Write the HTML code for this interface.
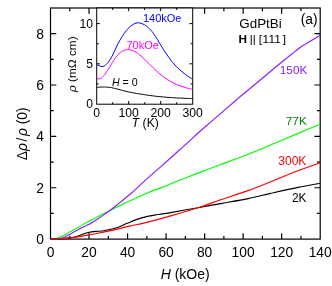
<!DOCTYPE html>
<html><head><meta charset="utf-8"><style>html,body{margin:0;padding:0;background:#fff;width:332px;height:286px;overflow:hidden}body{position:relative;font-family:"Liberation Sans",sans-serif}</style></head><body>
<svg width="332" height="286" viewBox="0 0 332 286" style="position:absolute;left:0;top:0" font-family="Liberation Sans, sans-serif">
<rect width="332" height="286" fill="#fff"/>
<g stroke="#000" stroke-width="1.2" fill="none" stroke-linecap="butt">
<rect x="50.50" y="8.00" width="269.70" height="231.10"/>
<path d="M69.76,239.10v-3.20 M69.76,8.00v3.20"/>
<path d="M89.03,239.10v-5.80 M89.03,8.00v5.80"/>
<path d="M108.29,239.10v-3.20 M108.29,8.00v3.20"/>
<path d="M127.56,239.10v-5.80 M127.56,8.00v5.80"/>
<path d="M146.82,239.10v-3.20 M146.82,8.00v3.20"/>
<path d="M166.09,239.10v-5.80 M166.09,8.00v5.80"/>
<path d="M185.35,239.10v-3.20 M185.35,8.00v3.20"/>
<path d="M204.61,239.10v-5.80 M204.61,8.00v5.80"/>
<path d="M223.88,239.10v-3.20 M223.88,8.00v3.20"/>
<path d="M243.14,239.10v-5.80 M243.14,8.00v5.80"/>
<path d="M262.41,239.10v-3.20 M262.41,8.00v3.20"/>
<path d="M281.67,239.10v-5.80 M281.67,8.00v5.80"/>
<path d="M300.94,239.10v-3.20 M300.94,8.00v3.20"/>
<path d="M50.50,213.42h3.20 M320.20,213.42h-3.20"/>
<path d="M50.50,187.74h5.80 M320.20,187.74h-5.80"/>
<path d="M50.50,162.06h3.20 M320.20,162.06h-3.20"/>
<path d="M50.50,136.38h5.80 M320.20,136.38h-5.80"/>
<path d="M50.50,110.70h3.20 M320.20,110.70h-3.20"/>
<path d="M50.50,85.02h5.80 M320.20,85.02h-5.80"/>
<path d="M50.50,59.34h3.20 M320.20,59.34h-3.20"/>
<path d="M50.50,33.66h5.80 M320.20,33.66h-5.80"/>
</g>
<defs><clipPath id="mc"><rect x="50.50" y="8.00" width="269.70" height="232.10"/></clipPath></defs>
<g fill="none" stroke-width="1.15" stroke-linejoin="round" clip-path="url(#mc)">
<path d="M50.50,238.80 C51.25,238.75 53.42,238.75 55.00,238.50 C56.58,238.25 58.33,237.92 60.00,237.30 C61.67,236.68 63.23,235.75 65.00,234.80 C66.77,233.85 68.42,232.80 70.60,231.60 C72.78,230.40 75.58,229.03 78.10,227.60 C80.62,226.17 83.72,224.15 85.70,223.00 C87.68,221.85 87.95,221.78 90.00,220.70 C92.05,219.62 94.68,218.20 98.00,216.50 C101.32,214.80 107.38,211.75 109.90,210.50 C112.42,209.25 111.08,209.98 113.10,209.00 C115.12,208.02 119.18,205.97 122.00,204.60 C124.82,203.23 128.23,201.63 130.00,200.80 C131.77,199.97 129.60,200.95 132.60,199.60 C135.60,198.25 142.05,195.13 148.00,192.70 C153.95,190.27 164.28,186.58 168.30,185.00 C172.32,183.42 167.15,185.18 172.10,183.20 C177.05,181.22 190.02,176.17 198.00,173.10 C205.98,170.03 211.67,167.95 220.00,164.80 C228.33,161.65 239.67,157.47 248.00,154.20 C256.33,150.93 264.67,147.40 270.00,145.20 C275.33,143.00 275.33,142.97 280.00,141.00 C284.67,139.03 291.30,136.18 298.00,133.40 C304.70,130.62 316.50,125.82 320.20,124.30" stroke="#00ff00"/>
<path d="M50.50,238.80 C51.58,238.77 54.90,238.78 57.00,238.60 C59.10,238.42 60.83,238.48 63.10,237.70 C65.37,236.92 68.10,235.22 70.60,233.90 C73.10,232.58 75.58,231.13 78.10,229.80 C80.62,228.47 83.72,226.92 85.70,225.90 C87.68,224.88 88.75,224.38 90.00,223.70 C91.25,223.02 91.87,222.62 93.20,221.80 C94.53,220.98 96.37,219.87 98.00,218.80 C99.63,217.73 101.02,216.78 103.00,215.40 C104.98,214.02 107.73,212.10 109.90,210.50 C112.07,208.90 113.85,207.52 116.00,205.80 C118.15,204.08 120.47,202.13 122.80,200.20 C125.13,198.27 127.97,195.92 130.00,194.20 C132.03,192.48 132.00,192.62 135.00,189.90 C138.00,187.18 143.50,181.95 148.00,177.90 C152.50,173.85 156.67,170.33 162.00,165.60 C167.33,160.87 175.30,153.72 180.00,149.50 C184.70,145.28 187.20,143.05 190.20,140.30 C193.20,137.55 193.87,136.65 198.00,133.00 C202.13,129.35 208.72,123.82 215.00,118.40 C221.28,112.98 231.53,104.10 235.70,100.50 C239.87,96.90 235.95,100.18 240.00,96.80 C244.05,93.42 253.33,85.75 260.00,80.20 C266.67,74.65 275.30,67.38 280.00,63.50 C284.70,59.62 285.68,58.92 288.20,56.90 C290.72,54.88 292.70,53.25 295.10,51.40 C297.50,49.55 300.10,47.48 302.60,45.80 C305.10,44.12 307.17,43.05 310.10,41.30 C313.03,39.55 318.52,36.30 320.20,35.30" stroke="#8c1aff"/>
<path d="M50.50,238.80 C52.58,238.77 59.65,238.78 63.00,238.60 C66.35,238.42 68.60,237.97 70.60,237.70 C72.60,237.43 73.75,237.28 75.00,237.00 C76.25,236.72 76.83,236.47 78.10,236.00 C79.37,235.53 81.08,234.75 82.60,234.20 C84.12,233.65 85.43,233.13 87.20,232.70 C88.97,232.27 91.40,231.83 93.20,231.60 C95.00,231.37 96.20,231.45 98.00,231.30 C99.80,231.15 102.15,230.98 104.00,230.70 C105.85,230.42 106.73,230.18 109.10,229.60 C111.47,229.02 115.17,228.25 118.20,227.20 C121.23,226.15 124.27,224.57 127.30,223.30 C130.33,222.03 133.37,220.67 136.40,219.60 C139.43,218.53 142.48,217.65 145.50,216.90 C148.52,216.15 152.08,215.55 154.50,215.10 C156.92,214.65 157.32,214.62 160.00,214.20 C162.68,213.78 164.27,213.68 170.60,212.60 C176.93,211.52 189.67,209.20 198.00,207.70 C206.33,206.20 212.27,205.12 220.60,203.60 C228.93,202.08 239.67,200.30 248.00,198.60 C256.33,196.90 262.27,195.27 270.60,193.40 C278.93,191.53 289.73,189.08 298.00,187.40 C306.27,185.72 316.50,183.98 320.20,183.30" stroke="#000"/>
<path d="M50.50,238.80 C52.58,238.77 59.65,238.75 63.00,238.60 C66.35,238.45 68.08,238.18 70.60,237.90 C73.12,237.62 75.08,237.40 78.10,236.90 C81.12,236.40 85.38,235.52 88.70,234.90 C92.02,234.28 93.93,234.00 98.00,233.20 C102.07,232.40 108.08,231.23 113.10,230.10 C118.12,228.97 122.28,227.73 128.10,226.40 C133.92,225.07 140.92,223.85 148.00,222.10 C155.08,220.35 162.27,218.30 170.60,215.90 C178.93,213.50 189.67,210.38 198.00,207.70 C206.33,205.02 212.27,202.65 220.60,199.80 C228.93,196.95 239.67,193.60 248.00,190.60 C256.33,187.60 262.27,185.10 270.60,181.80 C278.93,178.50 289.73,173.98 298.00,170.80 C306.27,167.62 316.50,164.05 320.20,162.70" stroke="#ff0000"/>
</g>
<rect x="96.70" y="8.00" width="96.00" height="96.20" fill="#fff"/>
<g stroke="#000" stroke-width="1.0" fill="none">
<rect x="96.70" y="8.00" width="96.00" height="96.20"/>
<path d="M112.70,104.20v-2.00 M112.70,8.00v2.00"/>
<path d="M128.70,104.20v-3.20 M128.70,8.00v3.20"/>
<path d="M144.70,104.20v-2.00 M144.70,8.00v2.00"/>
<path d="M160.70,104.20v-3.20 M160.70,8.00v3.20"/>
<path d="M176.70,104.20v-2.00 M176.70,8.00v2.00"/>
<path d="M96.70,83.90h2.00 M192.70,83.90h-2.00"/>
<path d="M96.70,63.80h3.20 M192.70,63.80h-3.20"/>
<path d="M96.70,43.70h2.00 M192.70,43.70h-2.00"/>
<path d="M96.70,23.60h3.20 M192.70,23.60h-3.20"/>
</g>
<g fill="none" stroke-width="1.0" stroke-linejoin="round">
<path d="M96.90,87.40 C97.42,87.35 98.73,87.17 100.00,87.10 C101.27,87.03 103.17,86.98 104.50,87.00 C105.83,87.02 106.78,87.08 108.00,87.20 C109.22,87.32 110.30,87.40 111.80,87.70 C113.30,88.00 115.18,88.53 117.00,89.00 C118.82,89.47 120.87,90.03 122.70,90.50 C124.53,90.97 126.18,91.40 128.00,91.80 C129.82,92.20 131.60,92.53 133.60,92.90 C135.60,93.27 137.27,93.57 140.00,94.00 C142.73,94.43 146.97,95.08 150.00,95.50 C153.03,95.92 155.37,96.20 158.20,96.50 C161.03,96.80 163.97,97.07 167.00,97.30 C170.03,97.53 173.40,97.73 176.40,97.90 C179.40,98.07 182.28,98.18 185.00,98.30 C187.72,98.42 191.42,98.55 192.70,98.60" stroke="#000" stroke-width="0.95"/>
<path d="M96.90,78.60 C97.25,78.63 98.33,78.82 99.00,78.80 C99.67,78.78 100.07,79.05 100.90,78.50 C101.73,77.95 102.78,77.00 104.00,75.50 C105.22,74.00 106.60,72.00 108.20,69.50 C109.80,67.00 111.93,63.00 113.60,60.50 C115.27,58.00 116.68,56.08 118.20,54.50 C119.72,52.92 121.40,51.78 122.70,51.00 C124.00,50.22 125.03,50.03 126.00,49.80 C126.97,49.57 127.67,49.57 128.50,49.60 C129.33,49.63 129.92,49.67 131.00,50.00 C132.08,50.33 133.50,50.77 135.00,51.60 C136.50,52.43 137.65,52.98 140.00,55.00 C142.35,57.02 146.07,60.77 149.10,63.70 C152.13,66.63 155.17,69.97 158.20,72.60 C161.23,75.23 164.27,77.53 167.30,79.50 C170.33,81.47 173.37,83.05 176.40,84.40 C179.43,85.75 182.78,86.77 185.50,87.60 C188.22,88.43 191.50,89.10 192.70,89.40" stroke="#ff00ff"/>
<path d="M96.90,64.50 C97.25,64.68 98.18,65.27 99.00,65.60 C99.82,65.93 100.88,66.47 101.80,66.50 C102.72,66.53 103.43,66.50 104.50,65.80 C105.57,65.10 106.83,64.10 108.20,62.30 C109.57,60.50 111.18,57.88 112.70,55.00 C114.22,52.12 115.75,48.03 117.30,45.00 C118.85,41.97 120.48,39.22 122.00,36.80 C123.52,34.38 125.07,32.20 126.40,30.50 C127.73,28.80 128.80,27.67 130.00,26.60 C131.20,25.53 132.60,24.68 133.60,24.10 C134.60,23.52 135.23,23.32 136.00,23.10 C136.77,22.88 137.37,22.77 138.20,22.80 C139.03,22.83 139.95,22.97 141.00,23.30 C142.05,23.63 143.45,24.22 144.50,24.80 C145.55,25.38 146.05,25.68 147.30,26.80 C148.55,27.92 150.30,29.37 152.00,31.50 C153.70,33.63 156.00,37.25 157.50,39.60 C159.00,41.95 159.73,43.53 161.00,45.60 C162.27,47.67 163.77,50.00 165.10,52.00 C166.43,54.00 167.75,55.87 169.00,57.60 C170.25,59.33 171.37,60.90 172.60,62.40 C173.83,63.90 175.15,65.32 176.40,66.60 C177.65,67.88 178.83,68.98 180.10,70.10 C181.37,71.22 182.73,72.30 184.00,73.30 C185.27,74.30 186.25,75.08 187.70,76.10 C189.15,77.12 191.87,78.85 192.70,79.40" stroke="#0000ff"/>
</g>
<defs><filter id="idf" x="0" y="0" width="332" height="286" filterUnits="userSpaceOnUse" color-interpolation-filters="sRGB"><feOffset dx="0" dy="0"/></filter></defs>
<g filter="url(#idf)">
<g font-size="13.8" fill="#000">
<text x="50.50" y="257" text-anchor="middle">0</text>
<text x="89.03" y="257" text-anchor="middle">20</text>
<text x="127.56" y="257" text-anchor="middle">40</text>
<text x="166.09" y="257" text-anchor="middle">60</text>
<text x="204.61" y="257" text-anchor="middle">80</text>
<text x="243.14" y="257" text-anchor="middle">100</text>
<text x="281.67" y="257" text-anchor="middle">120</text>
<text x="320.20" y="257" text-anchor="middle">140</text>
<text x="44" y="244.10" text-anchor="end">0</text>
<text x="44" y="192.74" text-anchor="end">2</text>
<text x="44" y="141.38" text-anchor="end">4</text>
<text x="44" y="90.02" text-anchor="end">6</text>
<text x="44" y="38.66" text-anchor="end">8</text>
</g>
<text x="185.2" y="279.4" font-size="14" text-anchor="middle"><tspan font-style="italic">H</tspan> (kOe)</text>
<text transform="translate(26.7,133.8) rotate(-90)" font-size="13.8" text-anchor="middle">&#916;<tspan font-style="italic">&#961;</tspan><tspan dx="1.6">/</tspan><tspan font-style="italic" dx="1.6">&#961;</tspan> (0)</text>
<g font-size="12.2" fill="#000">
<text x="96.70" y="116.9" text-anchor="middle">0</text>
<text x="128.70" y="116.9" text-anchor="middle">100</text>
<text x="160.70" y="116.9" text-anchor="middle">200</text>
<text x="192.70" y="116.9" text-anchor="middle">300</text>
<text x="93" y="108.40" text-anchor="end">0</text>
<text x="93" y="68.20" text-anchor="end">5</text>
<text x="93" y="28.00" text-anchor="end">10</text>
</g>
<text x="145.3" y="126.8" font-size="12.1" text-anchor="middle"><tspan font-style="italic">T</tspan> (K)</text>
<text transform="translate(75.8,64.2) rotate(-90)" font-size="11.8" text-anchor="middle"><tspan font-style="italic">&#961;</tspan> (m&#937; cm)</text>
<text x="142.9" y="22.4" font-size="11" fill="#0000ff">140kOe</text>
<text x="126.4" y="48.7" font-size="11" fill="#ff00ff">70kOe</text>
<text x="112" y="86" font-size="10.6" fill="#000"><tspan font-style="italic">H</tspan> = 0</text>
<text x="239.3" y="27.7" font-size="13.4" fill="#000">GdPtBi</text>
<text x="300.7" y="24.4" font-size="13.8" fill="#000">(a)</text>
<text x="238.5" y="43.4" font-size="11.8" fill="#000"><tspan font-weight="bold">H</tspan><tspan dx="2.6">||</tspan><tspan dx="2.9">[</tspan><tspan letter-spacing="0.25" dx="0.5">111</tspan><tspan dx="1.7">]</tspan></text>
<text x="279.8" y="74" font-size="11.8" fill="#8c1aff">150K</text>
<text x="285.8" y="124.8" font-size="11.8" fill="#008000">77K</text>
<text x="278.3" y="165" font-size="12" fill="#ff0000">300K</text>
<text x="292" y="202.1" font-size="11.9" fill="#000">2K</text>
</g>
</svg>
</body></html>
